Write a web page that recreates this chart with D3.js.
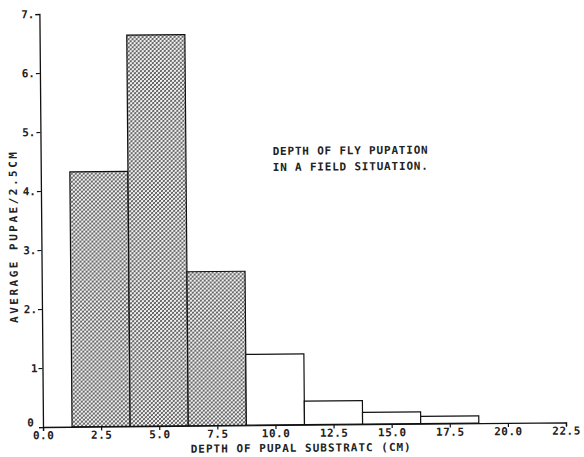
<!DOCTYPE html>
<html><head><meta charset="utf-8">
<script src="https://cdn.jsdelivr.net/npm/d3@7"></script>
<style>
body{margin:0;background:#fff;}
text{font-family:"DejaVu Sans Mono",monospace;fill:#222;}
</style></head>
<body><svg id="c" width="584" height="457"></svg>
<script>
// Data
const binCenters = [2.5, 5.0, 7.5, 10.0, 12.5, 15.0, 17.5];
const binWidth = 2.5;
const pupae = [4.32, 6.63, 2.61, 1.2, 0.4, 0.2, 0.125];
const shaded = [true, true, true, false, false, false, false];
const xTicks = [0, 2.5, 5, 7.5, 10, 12.5, 15, 17.5, 20, 22.5];
const xTickLabels = ["0.0","2.5","5.0","7.5","10.0","12.5","15.0","17.5","20.0","22.5"];
const yTicks = [0,1,2,3,4,5,6,7];
const yTickLabels = ["0","1","2.","3.","4.","5.","6.","7."];
const note = ["DEPTH OF FLY PUPATION", "IN A FIELD SITUATION."];

const svg = d3.select("#c");
const defs = svg.append("defs");
const pat = defs.append("pattern").attr("id","hatch").attr("patternUnits","userSpaceOnUse")
  .attr("width",4).attr("height",4);
pat.append("rect").attr("width",4).attr("height",4).attr("fill","#f2f2f2");
pat.append("path").attr("d","M-1,1 l2,-2 M0,4 l4,-4 M3,5 l2,-2").attr("stroke","#3a3a3a").attr("stroke-width",0.85);
pat.append("path").attr("d","M-1,3 l2,2 M0,0 l4,4 M3,-1 l2,2").attr("stroke","#555").attr("stroke-width",0.75);

const x = d3.scaleLinear().domain([0,22.5]).range([43,566]);
const y = d3.scaleLinear().domain([0,7]).range([427,14]);

const g = svg.append("g").attr("transform","rotate(-0.5,43,427)");

// bars
g.selectAll("rect.bar").data(binCenters).enter().append("rect")
  .attr("x", d=>x(d-binWidth/2))
  .attr("width", d=>x(d+binWidth/2)-x(d-binWidth/2))
  .attr("y", (d,i)=>y(pupae[i]))
  .attr("height", (d,i)=>y(0)-y(pupae[i]))
  .attr("fill", (d,i)=>shaded[i]?"url(#hatch)":"#fff")
  .attr("stroke","#111").attr("stroke-width",1.2);

// axes
const yAxis = d3.axisLeft(y).tickValues(yTicks).tickSize(4).tickFormat((d,i)=>yTickLabels[i]);
const ya = g.append("g").attr("transform",`translate(${x(0)},0)`).call(yAxis);
const xAxis = d3.axisBottom(x).tickValues(xTicks).tickSize(4).tickFormat((d,i)=>xTickLabels[i]);
const xa = g.append("g").attr("transform",`translate(0,${y(0)})`).call(xAxis);
[ya,xa].forEach(a=>{
  a.select(".domain").attr("stroke","#111").attr("stroke-width",1.3);
  a.selectAll(".tick line").attr("stroke","#111").attr("stroke-width",1.2);
  a.selectAll("text").style("font-family","'DejaVu Sans Mono',monospace")
    .style("font-size","11px").style("font-weight","bold").attr("fill","#222");
});
ya.selectAll(".tick text").attr("x",-5).attr("dy",(d)=>d===0?"-0.1em":"0.32em")
  .attr("x",d=>d===0?-9:-5);
xa.selectAll(".tick text").attr("y",4).attr("dy","0.75em").style("letter-spacing","0.5px");

// axis titles
g.append("text").attr("x",301).attr("y",454).attr("text-anchor","middle")
  .style("font-size","11px").style("font-weight","bold").style("letter-spacing","1px")
  .text("DEPTH OF PUPAL SUBSTRATC (CM)");
g.append("text").attr("transform","translate(19,236) rotate(-90)").attr("text-anchor","middle")
  .style("font-size","11px").style("font-weight","bold").style("letter-spacing","2.5px")
  .text("AVERAGE PUPAE/2.5CM");

// annotation
g.selectAll("text.note").data(note).enter().append("text")
  .attr("x",275).attr("y",(d,i)=>157+i*16)
  .style("font-size","11px").style("font-weight","bold").style("letter-spacing","0.8px")
  .text(d=>d);
</script></body></html>
